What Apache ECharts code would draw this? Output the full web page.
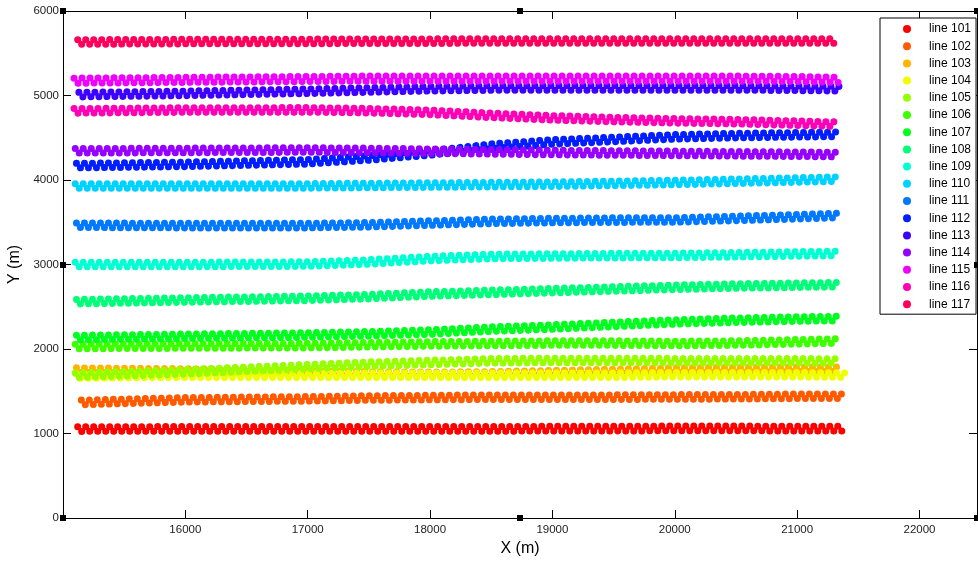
<!DOCTYPE html>
<html>
<head>
<meta charset="utf-8">
<title>Survey lines</title>
<script src="https://cdn.jsdelivr.net/npm/echarts@6/dist/echarts.min.js"></script>
<style>
  html, body { margin: 0; padding: 0; background: #fff; }
  #chart { width: 978px; height: 563px; }
</style>
</head>
<body>
<div id="chart"></div>
<script>
// line names, as in the legend
var lineNames = ['line 101','line 102','line 103','line 104','line 105','line 106','line 107','line 108','line 109',
                 'line 110','line 111','line 112','line 113','line 114','line 115','line 116','line 117'];
// matlab hsv(17)
var lineColors = ['#ff0000','#ff5a00','#ffb400','#f0ff00','#96ff00','#3cff00','#00ff1e','#00ff78','#00ffd2',
                  '#00d2ff','#0078ff','#001eff','#3c00ff','#9600ff','#f000ff','#ff00b4','#ff005a'];

// x (m) where each line starts / ends, and the x positions read in between
var startX = [15120,15150,15110,15110,15100,15100,15110,15110,15100,15100,15110,15110,15130,15100,15090,15090,15120];
var endX   = [21380,21370,21340,21390,21330,21330,21330,21330,21330,21330,21340,21340,21350,21330,21340,21330,21330];
var knotX  = [16000,17000,17500,18000,18500,19000,19500,20000,20500,21000];

// y (m) of the upper row of dots of each line, at start, knotX..., end
var rowA = [
  [1080,1082,1082,1082,1082,1082,1085,1085,1088,1088,1085,1085],
  [1395,1425,1437,1447,1452,1457,1457,1457,1460,1462,1467,1467],
  [1777,1767,1742,1732,1727,1732,1747,1762,1777,1782,1787,1787],
  [1707,1717,1717,1717,1717,1717,1717,1717,1722,1722,1722,1717],
  [1717,1757,1817,1847,1867,1887,1892,1892,1889,1889,1887,1885],
  [2057,2062,2067,2077,2087,2092,2097,2097,2092,2097,2112,2122],
  [2162,2177,2192,2207,2227,2262,2287,2317,2347,2367,2382,2387],
  [2587,2607,2627,2647,2677,2697,2717,2737,2757,2772,2782,2787],
  [3027,3027,3032,3057,3097,3122,3127,3132,3134,3142,3152,3157],
  [3957,3957,3957,3962,3967,3972,3977,3987,3997,4012,4027,4037],
  [3492,3487,3487,3497,3517,3537,3547,3552,3554,3572,3592,3607],
  [4197,4212,4242,4287,4347,4427,4477,4507,4537,4552,4562,4567],
  [5037,5052,5077,5092,5107,5115,5117,5117,5117,5117,5112,5107],
  [4372,4377,4382,4377,4367,4360,4352,4347,4342,4337,4332,4327],
  [5205,5215,5225,5230,5230,5230,5230,5230,5230,5230,5225,5215],
  [4845,4855,4857,4847,4827,4792,4762,4742,4727,4717,4699,4687],
  [5660,5665,5667,5669,5670,5672,5672,5672,5672,5672,5672,5672]
];
// y (m) of the lower row of dots
var rowB = [
  [1025,1027,1027,1027,1027,1027,1030,1030,1032,1032,1030,1030],
  [1340,1372,1383,1393,1398,1403,1403,1403,1405,1408,1413,1413],
  [1723,1713,1688,1678,1673,1678,1693,1708,1723,1728,1733,1733],
  [1653,1663,1663,1663,1663,1663,1663,1663,1668,1668,1668,1663],
  [1663,1703,1763,1793,1813,1833,1838,1838,1835,1835,1833,1831],
  [2003,2008,2013,2023,2033,2038,2043,2043,2038,2043,2058,2068],
  [2108,2123,2138,2153,2173,2208,2233,2263,2293,2313,2328,2333],
  [2533,2553,2573,2593,2623,2643,2663,2683,2703,2718,2728,2733],
  [2973,2973,2978,3003,3043,3068,3073,3078,3080,3088,3098,3103],
  [3903,3903,3903,3908,3913,3918,3923,3933,3943,3958,3973,3983],
  [3438,3433,3433,3443,3463,3483,3493,3498,3500,3518,3538,3553],
  [4143,4158,4188,4233,4293,4373,4423,4453,4483,4498,4508,4513],
  [4983,4998,5023,5038,5053,5061,5063,5063,5063,5063,5058,5053],
  [4318,4323,4328,4323,4313,4306,4298,4293,4288,4283,4278,4273],
  [5145,5155,5165,5170,5170,5170,5170,5170,5170,5170,5165,5155],
  [4791,4801,4803,4793,4773,4738,4708,4688,4673,4663,4645,4633],
  [5606,5611,5613,5615,5616,5618,5618,5618,5618,5618,5618,5618]
];

var FONT = 'Liberation Sans, Arial, sans-serif';
var G = { left: 63, top: 11, right: 1, bottom: 45, outerBoundsMode: 'none', containLabel: false };

var series = [];
for (var i = 0; i < lineNames.length; i++) {
  var xs = [startX[i]].concat(knotX, [endX[i]]);
  [rowA[i], rowB[i]].forEach(function (row, r) {
    series.push({
      name: lineNames[i],
      type: 'line',
      data: row.map(function (y, k) { return [xs[k], y]; }),
      showSymbol: false,
      symbol: 'circle',
      color: lineColors[i],
      // round-capped tiny dashes -> a row of dots
      lineStyle: { width: 7, type: [0.001, 8], cap: 'round', dashOffset: r * 4 },
      silent: true
    });
  });
}

// matlab style selection handles on the axes box
var W = 978, H = 563;
var bx0 = G.left, bx1 = W - G.right, by0 = G.top, by1 = H - G.bottom;
var handlePts = [[bx0, by0], [(bx0 + bx1) / 2, by0], [bx1, by0], [bx0, (by0 + by1) / 2],
                 [bx1, (by0 + by1) / 2], [bx0, by1], [(bx0 + bx1) / 2, by1], [bx1, by1]];
var graphics = handlePts.map(function (p) {
  return { type: 'rect', shape: { x: Math.round(p[0]) - 3, y: Math.round(p[1]) - 3, width: 6, height: 6 },
           style: { fill: '#000' }, z: 100, silent: true };
});

var plain = function (v) { return String(v); };

var axisCommon = {
  type: 'value',
  axisLine: { show: true, onZero: false, lineStyle: { color: '#000', width: 1 } },
  axisTick: { show: true, inside: true, length: 8, lineStyle: { color: '#000' } },
  splitLine: { show: false }
};

var option = {
  animation: false,
  backgroundColor: '#fff',
  textStyle: { fontFamily: FONT },
  grid: G,
  legend: {
    orient: 'vertical', left: 880, top: 18,
    padding: [4, 5, 3, 23],
    itemWidth: 34, itemHeight: 8, itemGap: 3.2,
    icon: 'circle',
    backgroundColor: '#fff', borderColor: '#000', borderWidth: 1, borderRadius: 0,
    itemStyle: { borderWidth: 0 },
    textStyle: { fontSize: 12, lineHeight: 14, color: '#000', fontFamily: FONT },
    data: lineNames,
    selectedMode: false
  },
  xAxis: [
    Object.assign({}, axisCommon, {
      position: 'bottom', min: 15000, max: 22470, interval: 1000,
      name: 'X (m)', nameLocation: 'middle', nameGap: 21,
      nameTextStyle: { fontSize: 16, color: '#000', fontFamily: FONT },
      axisLabel: { showMinLabel: false, showMaxLabel: false, formatter: plain,
                   margin: 6, fontSize: 11.5, color: '#222', fontFamily: FONT }
    }),
    Object.assign({}, axisCommon, {
      position: 'top', min: 15000, max: 22470, interval: 1000,
      axisLabel: { show: false }
    })
  ],
  yAxis: [
    Object.assign({}, axisCommon, {
      position: 'left', min: 0, max: 6000, interval: 1000,
      name: 'Y (m)', nameLocation: 'middle', nameGap: 29,
      nameTextStyle: { fontSize: 16, color: '#000', fontFamily: FONT },
      axisLabel: { formatter: plain, margin: 4, fontSize: 11.5, color: '#222', fontFamily: FONT }
    }),
    Object.assign({}, axisCommon, {
      position: 'right', min: 0, max: 6000, interval: 1000,
      axisLabel: { show: false }
    })
  ],
  graphic: graphics,
  series: series
};

var chart = echarts.init(document.getElementById('chart'), null, { renderer: 'canvas' });
chart.setOption(option);
</script>
</body>
</html>
